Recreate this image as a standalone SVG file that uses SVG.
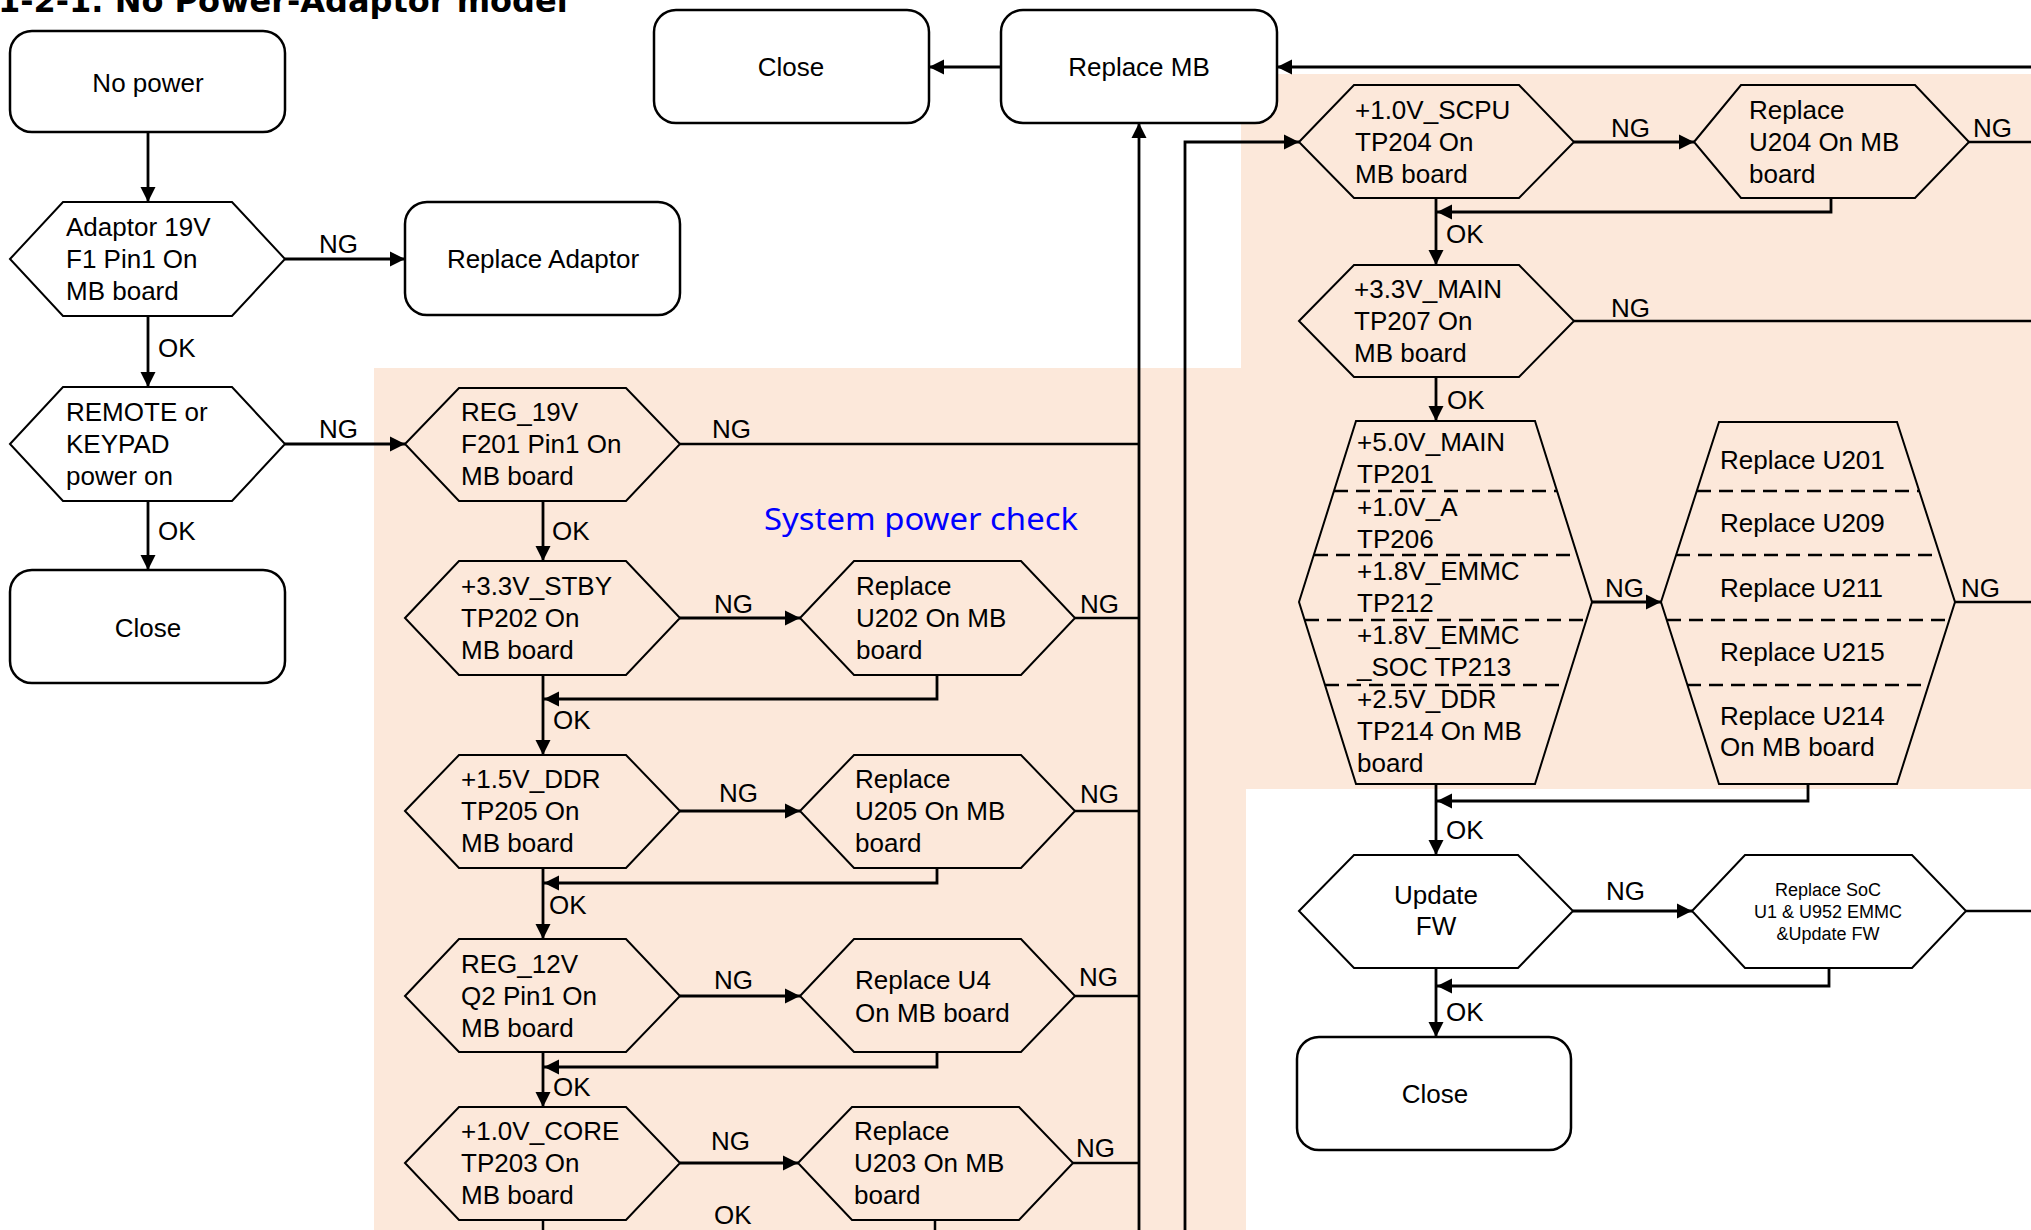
<svg xmlns="http://www.w3.org/2000/svg" width="2031" height="1230" viewBox="0 0 2031 1230">
<defs>
<marker id="ah" markerUnits="userSpaceOnUse" markerWidth="16" markerHeight="16" viewBox="0 0 16 16" refX="15" refY="8" orient="auto">
<path d="M0,0.5 L15,8 L0,15.5 Z" fill="#000"/>
</marker>
<style>
.t{font-family:"Liberation Sans",Arial,sans-serif;font-size:26px;fill:#000}
.s{font-family:"Liberation Sans",Arial,sans-serif;font-size:18px;fill:#000;text-anchor:middle}
.c{text-anchor:middle}
.box{fill:#fff;stroke:#000;stroke-width:2.5}
.hx{fill:none;stroke:#000;stroke-width:2}
.hw{fill:#fff;stroke:#000;stroke-width:2}
.dash{stroke:#000;stroke-width:2.5;stroke-dasharray:14 8;fill:none}
.ln{fill:none;stroke:#000;stroke-width:2.5}
.la{fill:none;stroke:#000;stroke-width:2.8;marker-end:url(#ah)}
.title{font-family:"DejaVu Sans",Verdana,sans-serif;font-weight:bold;font-size:32px;fill:#000}
.sec{font-family:"Noto Sans","Open Sans",sans-serif;font-size:31px;fill:#0000ff}
</style>
</defs>
<rect width="2031" height="1230" fill="#fff"/>
<path d="M374,368 H1241 V74 H2031 V789 H1246 V1230 H374 Z" fill="#fce8da"/>
<text class="title" x="-2" y="12">1-2-1. No Power-Adaptor model</text>
<text class="sec" x="764" y="530" textLength="314" lengthAdjust="spacingAndGlyphs">System power check</text>

<g id="connectors">
<path class="la" d="M148,132 V202"/>
<path class="la" d="M285,259 H405"/>
<path class="la" d="M148,316 V387"/>
<path class="la" d="M285,444 H405"/>
<path class="la" d="M148,501 V570"/>
<path class="ln" d="M680,444 H1139"/>
<path class="la" d="M1139,1230 V123"/>
<path class="la" d="M1001,67 H929"/>
<path class="la" d="M2031,67 H1277"/>
<path class="la" d="M1185,1230 V142 H1299"/>
<path class="la" d="M543,501 V561"/>
<path class="la" d="M680,618 H800"/>
<path class="ln" d="M1075,618 H1139"/>
<path class="la" d="M937,675 V699 H544"/>
<path class="la" d="M543,675 V755"/>
<path class="la" d="M680,811 H800"/>
<path class="ln" d="M1075,811 H1139"/>
<path class="la" d="M937,868 V883 H544"/>
<path class="la" d="M543,868 V939"/>
<path class="la" d="M680,996 H800"/>
<path class="ln" d="M1075,996 H1139"/>
<path class="la" d="M937,1052 V1067 H544"/>
<path class="la" d="M543,1052 V1107"/>
<path class="la" d="M680,1163 H798"/>
<path class="ln" d="M1073,1163 H1139"/>
<path class="ln" d="M543,1220 V1230"/>
<path class="ln" d="M935,1220 V1230"/>
<path class="la" d="M1574,142 H1694"/>
<path class="ln" d="M1969,142 H2031"/>
<path class="la" d="M1831,198 V212 H1437"/>
<path class="la" d="M1436,198 V265"/>
<path class="ln" d="M1574,321 H2031"/>
<path class="la" d="M1436,377 V421"/>
<path class="la" d="M1592,602 H1661"/>
<path class="ln" d="M1955,602 H2031"/>
<path class="la" d="M1808,784 V801 H1437"/>
<path class="la" d="M1436,784 V855"/>
<path class="la" d="M1573,911 H1692"/>
<path class="ln" d="M1966,911 H2031"/>
<path class="la" d="M1829,968 V986 H1437"/>
<path class="la" d="M1436,968 V1037"/>
</g>

<g id="labels">
<text class="t" x="319" y="253">NG</text>
<text class="t" x="158" y="357">OK</text>
<text class="t" x="319" y="438">NG</text>
<text class="t" x="158" y="540">OK</text>
<text class="t" x="712" y="438">NG</text>
<text class="t" x="552" y="540">OK</text>
<text class="t" x="714" y="613">NG</text>
<text class="t" x="1080" y="613">NG</text>
<text class="t" x="553" y="729">OK</text>
<text class="t" x="719" y="802">NG</text>
<text class="t" x="1080" y="803">NG</text>
<text class="t" x="549" y="914">OK</text>
<text class="t" x="714" y="989">NG</text>
<text class="t" x="1079" y="986">NG</text>
<text class="t" x="553" y="1096">OK</text>
<text class="t" x="711" y="1150">NG</text>
<text class="t" x="1076" y="1157">NG</text>
<text class="t" x="714" y="1224">OK</text>
<text class="t" x="1611" y="137">NG</text>
<text class="t" x="1973" y="137">NG</text>
<text class="t" x="1446" y="243">OK</text>
<text class="t" x="1611" y="317">NG</text>
<text class="t" x="1447" y="409">OK</text>
<text class="t" x="1605" y="597">NG</text>
<text class="t" x="1961" y="597">NG</text>
<text class="t" x="1446" y="839">OK</text>
<text class="t" x="1606" y="900">NG</text>
<text class="t" x="1446" y="1021">OK</text>
</g>

<g id="n-nopower"><rect class="box" x="10" y="31" width="275" height="101" rx="22"/><text class="t c" x="148" y="92">No power</text></g>
<g id="n-adaptor"><polygon class="hw" points="10,259 63,202 232,202 285,259 232,316 63,316"/>
<text class="t" x="66" y="236">Adaptor 19V</text><text class="t" x="66" y="268">F1 Pin1 On</text><text class="t" x="66" y="300">MB board</text></g>
<g id="n-repadaptor"><rect class="box" x="405" y="202" width="275" height="113" rx="22"/><text class="t c" x="543" y="268">Replace Adaptor</text></g>
<g id="n-remote"><polygon class="hw" points="10,444 63,387 232,387 285,444 232,501 63,501"/>
<text class="t" x="66" y="421">REMOTE or</text><text class="t" x="66" y="453">KEYPAD</text><text class="t" x="66" y="485">power on</text></g>
<g id="n-close1"><rect class="box" x="10" y="570" width="275" height="113" rx="22"/><text class="t c" x="148" y="637">Close</text></g>
<g id="n-close2"><rect class="box" x="654" y="10" width="275" height="113" rx="22"/><text class="t c" x="791" y="76">Close</text></g>
<g id="n-replacemb"><rect class="box" x="1001" y="10" width="276" height="113" rx="22"/><text class="t c" x="1139" y="76">Replace MB</text></g>

<g id="n-reg19"><polygon class="hx" points="405,444 459,388 626,388 680,444 626,501 459,501"/>
<text class="t" x="461" y="421">REG_19V</text><text class="t" x="461" y="453">F201 Pin1 On</text><text class="t" x="461" y="485">MB board</text></g>
<g id="n-stby"><polygon class="hx" points="405,618 459,561 626,561 680,618 626,675 459,675"/>
<text class="t" x="461" y="595">+3.3V_STBY</text><text class="t" x="461" y="627">TP202 On</text><text class="t" x="461" y="659">MB board</text></g>
<g id="n-u202"><polygon class="hx" points="800,618 854,561 1021,561 1075,618 1021,675 854,675"/>
<text class="t" x="856" y="595">Replace</text><text class="t" x="856" y="627">U202 On MB</text><text class="t" x="856" y="659">board</text></g>
<g id="n-ddr"><polygon class="hx" points="405,811 459,755 626,755 680,811 626,868 459,868"/>
<text class="t" x="461" y="788">+1.5V_DDR</text><text class="t" x="461" y="820">TP205 On</text><text class="t" x="461" y="852">MB board</text></g>
<g id="n-u205"><polygon class="hx" points="800,811 854,755 1021,755 1075,811 1021,868 854,868"/>
<text class="t" x="855" y="788">Replace</text><text class="t" x="855" y="820">U205 On MB</text><text class="t" x="855" y="852">board</text></g>
<g id="n-reg12"><polygon class="hx" points="405,996 459,939 626,939 680,996 626,1052 459,1052"/>
<text class="t" x="461" y="973">REG_12V</text><text class="t" x="461" y="1005">Q2 Pin1 On</text><text class="t" x="461" y="1037">MB board</text></g>
<g id="n-u4"><polygon class="hx" points="800,996 854,939 1021,939 1075,996 1021,1052 854,1052"/>
<text class="t" x="855" y="989">Replace U4</text><text class="t" x="855" y="1022">On MB board</text></g>
<g id="n-core"><polygon class="hx" points="405,1163 459,1107 626,1107 680,1163 626,1220 459,1220"/>
<text class="t" x="461" y="1140">+1.0V_CORE</text><text class="t" x="461" y="1172">TP203 On</text><text class="t" x="461" y="1204">MB board</text></g>
<g id="n-u203"><polygon class="hx" points="798,1163 852,1107 1019,1107 1073,1163 1019,1220 852,1220"/>
<text class="t" x="854" y="1140">Replace</text><text class="t" x="854" y="1172">U203 On MB</text><text class="t" x="854" y="1204">board</text></g>

<g id="n-scpu"><polygon class="hx" points="1299,142 1354,85 1519,85 1574,142 1519,198 1354,198"/>
<text class="t" x="1355" y="119">+1.0V_SCPU</text><text class="t" x="1355" y="151">TP204 On</text><text class="t" x="1355" y="183">MB board</text></g>
<g id="n-u204"><polygon class="hx" points="1694,142 1741,85 1915,85 1969,142 1915,198 1741,198"/>
<text class="t" x="1749" y="119">Replace</text><text class="t" x="1749" y="151">U204 On MB</text><text class="t" x="1749" y="183">board</text></g>
<g id="n-main33"><polygon class="hx" points="1299,321 1354,265 1519,265 1574,321 1519,377 1354,377"/>
<text class="t" x="1354" y="298">+3.3V_MAIN</text><text class="t" x="1354" y="330">TP207 On</text><text class="t" x="1354" y="362">MB board</text></g>
<g id="n-rails"><polygon class="hx" points="1299,602 1356,421 1535,421 1592,602 1535,784 1356,784"/>
<path class="dash" d="M1334,491 H1557 M1314,555 H1577 M1305,620 H1586 M1325,685 H1566"/>
<text class="t" x="1357" y="451">+5.0V_MAIN</text><text class="t" x="1357" y="483">TP201</text>
<text class="t" x="1357" y="516">+1.0V_A</text><text class="t" x="1357" y="548">TP206</text>
<text class="t" x="1357" y="580">+1.8V_EMMC</text><text class="t" x="1357" y="612">TP212</text>
<text class="t" x="1357" y="644">+1.8V_EMMC</text><text class="t" x="1357" y="676">_SOC TP213</text>
<text class="t" x="1357" y="708">+2.5V_DDR</text><text class="t" x="1357" y="740">TP214 On MB</text><text class="t" x="1357" y="772">board</text></g>
<g id="n-replaceu"><polygon class="hx" points="1661,602 1719,422 1897,422 1955,602 1897,784 1719,784"/>
<path class="dash" d="M1697,491 H1919 M1676,555 H1940 M1667,620 H1949 M1687,685 H1929"/>
<text class="t" x="1720" y="469">Replace U201</text>
<text class="t" x="1720" y="532">Replace U209</text>
<text class="t" x="1720" y="597">Replace U211</text>
<text class="t" x="1720" y="661">Replace U215</text>
<text class="t" x="1720" y="725">Replace U214</text><text class="t" x="1720" y="756">On MB board</text></g>
<g id="n-updatefw"><polygon class="hw" points="1299,911 1354,855 1518,855 1573,911 1518,968 1354,968"/>
<text class="t c" x="1436" y="904">Update</text><text class="t c" x="1436" y="935">FW</text></g>
<g id="n-soc"><polygon class="hw" points="1692,911 1745,855 1912,855 1966,911 1912,968 1745,968"/>
<text class="s" x="1828" y="896">Replace SoC</text><text class="s" x="1828" y="918">U1 &amp; U952 EMMC</text><text class="s" x="1828" y="940">&amp;Update FW</text></g>
<g id="n-close3"><rect class="box" x="1297" y="1037" width="274" height="113" rx="22"/><text class="t c" x="1435" y="1103">Close</text></g>
</svg>
